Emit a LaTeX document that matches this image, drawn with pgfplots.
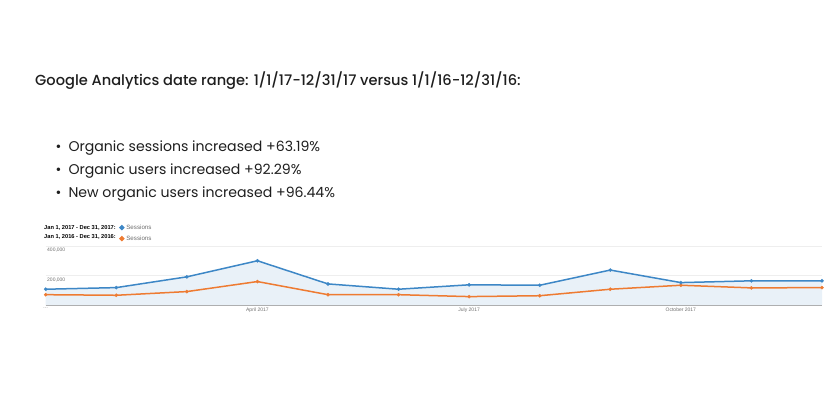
\documentclass[border=0pt]{standalone}
\usepackage{fontspec}
\setmainfont{Liberation Sans}
\newfontfamily\popfont{Poppins}
\newfontfamily\popmed{Poppins Medium}
\usepackage{pgfplots}
\usepackage{pgfplotstable}
\pgfplotsset{compat=1.18}
\definecolor{gablue}{HTML}{3D87C6}
\definecolor{gaorange}{HTML}{EE7B32}
\definecolor{gafill}{HTML}{E9F1F8}
\definecolor{gagrid}{HTML}{EEEEEE}
\definecolor{gatext}{HTML}{6F6F6F}
\definecolor{headtext}{HTML}{1E1E1E}

% monthly sessions (0 = Jan ... 11 = Dec)
\pgfplotstableread{
m  y2017  y2016
0  107000 70000
1  118000 66000
2  191000 91000
3  300000 159000
4  143000 70000
5  107000 70000
6  137000 57000
7  134000 63000
8  237000 107000
9  152000 134000
10 164000 116000
11 164000 118000
}\sessions

\begin{document}
\begin{tikzpicture}[x=1pt,y=-1pt]
\path[use as bounding box] (0,0) rectangle (840,400);

\node[anchor=base west, inner sep=0pt, text=headtext, font=\popmed\fontsize{14.6}{16}\selectfont]
  at (35,85.3) {Google Analytics date range: 1/1/17-12/31/17 versus 1/1/16-12/31/16:};

\foreach \txt [count=\i] in {Organic sessions increased +63.19\%,
                             Organic users increased +92.29\%,
                             New organic users increased +96.44\%}{
  \node[anchor=base west, inner sep=0pt, text=headtext, font=\popfont\fontsize{14.1}{16}\selectfont]
    at (55.5,{151.7+23*(\i-1)}) {\textbullet\hspace{7pt}\txt};
}

\node[anchor=east, inner sep=0pt, font=\bfseries\fontsize{5.7}{6}\selectfont]
  at (116,227.7) {Jan 1, 2017 - Dec 31, 2017:};
\node[anchor=east, inner sep=0pt, font=\bfseries\fontsize{5.7}{6}\selectfont]
  at (116,237.2) {Jan 1, 2016 - Dec 31, 2016:};

\coordinate (axpos) at (45.7,305);
\begin{axis}[
    at={(axpos)}, anchor=south west,
    scale only axis, width=776.3pt, height=59pt,
    xmin=0, xmax=11, ymin=0, ymax=400000,
    clip=false,
    axis x line*=bottom, axis y line*=left,
    x axis line style={color=black!35, line width=0.8pt, -},
    y axis line style={draw=none},
    xtick={0,3,6,9},
    xticklabels={{\ldots}, April 2017, July 2017, October 2017},
    xtick style={draw=none},
    xticklabel style={font=\fontsize{5}{6}\selectfont, text=gatext, inner sep=0pt, anchor=north, yshift=-2.6pt},
    ytick={200000,400000}, yticklabels={}, ytick style={draw=none},
    scaled y ticks=false,
    ymajorgrids, major grid style={color=gagrid, line width=0.8pt},
    legend style={at={(0.0945,1.40)}, anchor=north west, draw=none, fill=none,
                  font=\fontsize{6.2}{7}\selectfont, text=gatext, inner sep=0pt,
                  row sep=1.0pt, cells={anchor=west}},
    legend image code/.code={\fill[#1] (2.5pt,0pt) circle (1.8pt);},
    reverse legend,
]
\addplot[fill=gafill, draw=none, forget plot] table[x=m, y=y2017] {\sessions} \closedcycle;
\addplot[color=gaorange, line width=1.5pt, mark=*, mark size=1.7pt, mark options={line width=0.2pt}] table[x=m, y=y2016] {\sessions};
\addlegendentry{Sessions}
\addplot[color=gablue, line width=1.5pt, mark=*, mark size=1.7pt, mark options={line width=0.2pt}] table[x=m, y=y2017] {\sessions};
\addlegendentry{Sessions}
\node[anchor=north west, inner sep=0pt, xshift=1.3pt, yshift=-2pt, text=gatext, font=\fontsize{5}{6}\selectfont]
  at (axis cs:0,400000) {400,000};
\node[anchor=north west, inner sep=0pt, xshift=1.3pt, yshift=-2pt, text=gatext, font=\fontsize{5}{6}\selectfont]
  at (axis cs:0,200000) {200,000};
\end{axis}
\end{tikzpicture}
\end{document}
